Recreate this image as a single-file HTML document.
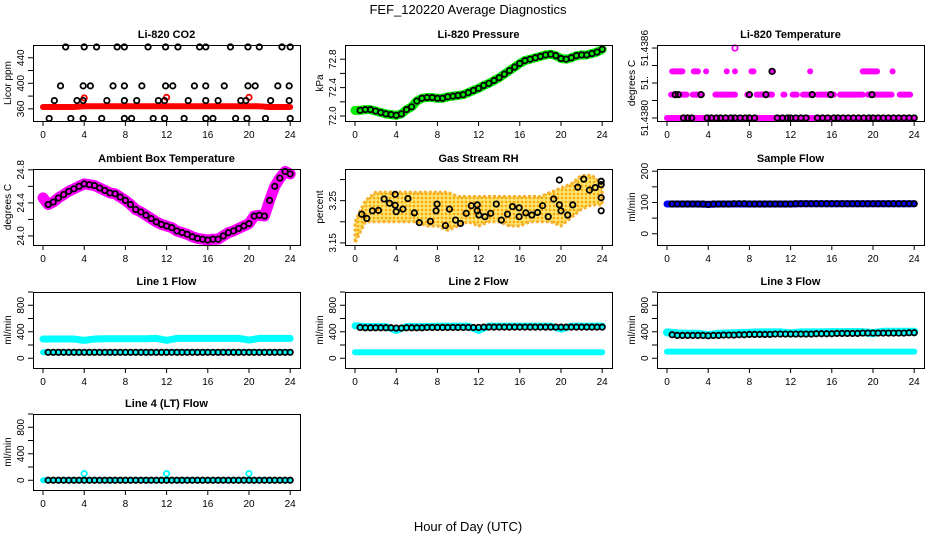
<!DOCTYPE html>
<html><head><meta charset="utf-8"><style>
html,body{margin:0;padding:0;background:#fff}
svg{display:block;font-family:"Liberation Sans",sans-serif}
</style></head><body>
<svg id="c" width="936" height="540" viewBox="0 0 936 540" xmlns="http://www.w3.org/2000/svg">
<defs>
<pattern id="rhpat" width="4" height="4" patternUnits="userSpaceOnUse">
<rect width="4" height="4" fill="#fbe27a"/>
<circle cx="2" cy="2" r="1.4" fill="#ffcc00"/>
<circle cx="2" cy="2" r="0.8" fill="#f08020"/>
</pattern>
</defs>
<text x="468" y="14" text-anchor="middle" font-size="13">FEF_120220  Average Diagnostics</text>
<text x="468" y="531" text-anchor="middle" font-size="13">Hour of Day (UTC)</text>
</svg>
<script>
// ---- data ----
const xTicks=[0,4,8,12,16,20,24];
const co2RedVals=[363,363,363,363,364,364,364,364,364,364,364,364,364,364,364,364,364,364,364,364,364,364,363,363,363];
const co2OutT=[4,12,20];
const co2OutV=[377,378,378];
const co2BlackT=[2.2,4.0,5.2,7.2,7.9,10.2,11.9,13.1,15.2,15.8,18.2,19.9,21.0,23.2,24.0, 1.7,3.9,4.6,6.8,7.9,9.6,11.9,12.6,14.7,15.8,17.6,19.9,20.6,22.8,23.9, 1.1,3.3,3.9,6.2,7.9,9.1,11.2,11.8,14.1,15.8,17.0,19.2,19.7,22.1,23.9, 0.6,2.7,3.9,5.7,7.9,8.6,10.7,11.8,13.7,15.8,16.5,18.7,19.8,21.6,24.0];
const co2BlackV=[457,457,457,457,457,457,457,457,457,457,457,457,457,457,457, 396,396,396,396,396,396,396,396,396,396,396,396,396,396,396, 373,373,373,373,373,373,373,373,373,373,373,373,373,373,373, 345,345,345,345,345,345,345,345,345,345,345,345,345,345,345];
const presVals=[72.08,72.08,72.09,72.09,72.07,72.05,72.03,72.02,72.01,72.03,72.09,72.13,72.21,72.25,72.26,72.26,72.25,72.25,72.27,72.28,72.29,72.30,72.33,72.36,72.39,72.43,72.46,72.50,72.54,72.59,72.64,72.69,72.74,72.78,72.80,72.82,72.84,72.86,72.87,72.85,72.81,72.80,72.82,72.85,72.86,72.86,72.88,72.90,72.94];
const ambVals=[24.46,24.38,24.41,24.46,24.50,24.54,24.57,24.60,24.63,24.62,24.61,24.58,24.55,24.52,24.51,24.47,24.43,24.38,24.32,24.29,24.25,24.21,24.17,24.14,24.12,24.10,24.06,24.04,24.02,23.99,23.97,23.96,23.95,23.96,23.96,24.00,24.04,24.06,24.09,24.12,24.15,24.24,24.25,24.24,24.43,24.60,24.70,24.78,24.75];
const tempLevels=[51.4380,51.4382,51.4384,51.4386];
const tempL0Seg=[[0,24]];
const tempL1Seg=[[0.4,1.9],[2.5,3.4],[4.7,6.6],[7.8,8.0],[8.7,10.2],[11.3,11.4],[12.2,12.6],[13.2,14.2],[14.6,16.2],[16.8,19.0],[19.5,21.8],[22.6,23.6]];
const tempL2Seg=[[0.5,1.5],[2.6,3.0],[3.8,3.8],[5.8,5.8],[6.6,6.6],[8.2,8.4],[10.3,10.3],[13.9,13.9],[19.0,20.4],[21.9,21.9]];
const tempL3T=[6.6];
const tempBlackT=[0.8,1.1,3.3,8.0,9.6,14.1,15.9,19.9,10.2];
const tempBlackV=[51.4382,51.4382,51.4382,51.4382,51.4382,51.4382,51.4382,51.4382,51.4384];
const tempBlackL0T=[1.6,2.0,2.4,3.9,4.3,4.8,5.2,5.7,6.2,6.6,7.1,7.6,8.0,8.5,10.7,11.2,11.7,12.0,12.5,13.0,13.5,14.6,15.1,15.6,16.2,16.6,17.1,17.6,18.1,18.6,19.1,19.6,20.0,20.5,21.0,21.5,22.0,22.5,23.0,23.5,24.0];
const rhUpper=[3.20,3.25,3.27,3.27,3.27,3.27,3.27,3.27,3.27,3.27,3.26,3.26,3.26,3.26,3.26,3.26,3.26,3.26,3.26,3.27,3.28,3.29,3.31,3.31,3.29];
const rhLower=[3.15,3.20,3.20,3.20,3.20,3.20,3.20,3.19,3.19,3.18,3.19,3.20,3.19,3.20,3.20,3.19,3.19,3.20,3.20,3.20,3.19,3.21,3.23,3.24,3.24];
const rhBlackT=[0.65,1.14,1.69,2.28,2.83,3.35,3.9,3.9,4.0,4.65,5.14,5.76,6.24,7.32,7.87,7.97,8.78,9.17,9.76,10.24,10.8,11.29,11.87,11.87,12.03,12.62,13.17,13.72,14.21,14.8,15.29,15.93,15.93,16.59,17.17,17.72,18.21,18.76,19.29,19.84,19.84,20.0,20.65,21.14,21.63,22.21,22.76,23.32,23.9,23.9,23.9,23.9];
const rhBlackV=[3.218,3.208,3.226,3.227,3.254,3.244,3.265,3.239,3.224,3.230,3.255,3.221,3.198,3.201,3.226,3.242,3.191,3.23,3.204,3.196,3.22,3.238,3.24,3.226,3.216,3.212,3.22,3.242,3.204,3.218,3.236,3.233,3.212,3.221,3.216,3.222,3.238,3.212,3.254,3.299,3.24,3.226,3.216,3.24,3.282,3.301,3.275,3.281,3.296,3.288,3.257,3.226];
const sampleVals=[95,95,95,95,94,95,95,95,95,95,95,95,95,96,96,96,96,96,96,96,96,96,96,96,96];
const sampleBlack=[95,95,95,95,95,95,95,94,95,95,95,95,96,96,96,95,95,95,95,95,95,95,95,95,96,96,96,96,96,96,96,96,96,96,96,96,96,96,96,96,96,96,96,96,96,96,96,96];
const l1Hi=[290,290,290,290,270,290,295,295,295,295,295,300,270,300,300,300,300,300,300,300,275,300,300,300,300];
const l1Lo=[90,90,90,90,90,90,90,90,90,90,90,90,95,95,95,95,95,95,95,95,95,95,95,95,95];
const l1Black=[90,90,90,90,90,90,90,90,90,90,90,90,90,90,90,90,90,90,90,90,90,90,90,90,90,90,90,90,90,90,90,90,90,90,90,90,90,90,90,90,90,90,90,90,90,90,90,90];
const l2Hi=[490,480,480,480,420,480,480,480,485,485,485,485,420,485,485,485,485,485,485,485,440,485,485,485,485];
const l2Lo=[90,90,90,90,90,90,90,90,90,90,90,90,90,90,90,90,90,90,90,90,90,90,90,90,90];
const l2Black=[465,460,460,460,460,460,460,455,455,460,460,460,460,465,465,465,465,465,465,465,465,465,465,465,470,470,470,470,470,470,470,470,470,470,470,470,470,470,470,470,470,470,470,470,470,470,470,470];
const l3Hi=[390,375,370,370,350,370,375,380,385,390,390,390,375,390,390,390,395,395,395,395,380,400,400,400,400];
const l3Lo=[100,100,100,100,100,100,100,100,100,100,100,100,100,100,100,100,100,100,100,100,100,100,100,100,100];
const l3Black=[355,345,345,345,345,345,345,340,345,345,350,350,350,355,355,360,360,360,360,360,365,365,365,365,365,365,365,365,370,370,370,370,375,375,375,375,375,380,380,380,380,380,380,380,380,380,385,385];
const l4Vals=[0,0,0,0,0,0,0,0,0,0,0,0,0,0,0,0,0,0,0,0,0,0,0,0,0];
const l4OutT=[4,12,20];
const l4OutV=[100,100,100];
const l4Black=[0,0,0,0,0,0,0,0,0,0,0,0,0,0,0,0,0,0,0,0,0,0,0,0,0,0,0,0,0,0,0,0,0,0,0,0,0,0,0,0,0,0,0,0,0,0,0,0];

// ---- drawing ----
const svg=document.getElementById('c');
const NS='http://www.w3.org/2000/svg';
function mk(tag,at,parent){const e=document.createElementNS(NS,tag);for(const k in at)e.setAttribute(k,at[k]);(parent||svg).appendChild(e);return e;}
const colX=[33,345,657], rowY=[45,169,292,414], W=267, H=76;
function panel(col,row,title,ylab,dom,ticks,labels,name){
  const x0=colX[col],y0=rowY[row];
  const g=mk('g',{});
  
  
  const sx=t=>x0+10+t*10.3;
  const sy=v=>y0+H-(v-dom[0])/(dom[1]-dom[0])*H;
  const t=mk('text',{x:x0+W/2,y:y0-7,'text-anchor':'middle','font-size':11,'font-weight':'bold'},g);
  t.textContent=title;
  
  
  const yl=mk('text',{transform:`translate(${x0-22},${y0+H/2}) rotate(-90)`,'text-anchor':'middle','font-size':10},g);
  yl.textContent=ylab;
  
  
  const ax=mk('g',{stroke:'#000','stroke-width':1},g);
  
  
  xTicks.forEach(v=>{mk('line',{x1:sx(v),x2:sx(v),y1:y0+H,y2:y0+H+5},ax);
    const l=mk('text',{x:sx(v),y:y0+H+17,'text-anchor':'middle','font-size':10,stroke:'none'},g);l.textContent=v;
    
    });
  ticks.forEach((v,i)=>{mk('line',{x1:x0-5,x2:x0,y1:sy(v),y2:sy(v)},ax);
    if(labels[i]){const l=mk('text',{transform:`translate(${x0-9},${sy(v)}) rotate(-90)`,'text-anchor':'middle','font-size':10},g);l.textContent=labels[i];
    
    }});
  const pg=mk('g',{},g);
  
  
  mk('rect',{x:x0+0.5,y:y0+0.5,width:W,height:H,fill:'none',stroke:'#000'},g);
  return {sx,sy,g:pg,name};
}
function band(p,ts,vs,color,w){
  const pts=ts.map((t,i)=>p.sx(t)+','+p.sy(vs[i])).join(' ');
  const l=mk('polyline',{points:pts,fill:'none',stroke:color,'stroke-width':w,'stroke-linejoin':'round','stroke-linecap':'round'},p.g);
  
  
}
function pts(p,ts,vs,color,r,sw){
  ts.forEach((t,i)=>{const c=mk('circle',{cx:p.sx(t),cy:p.sy(vs[i]),r:r||2.7,fill:'none',stroke:color,'stroke-width':sw||1.8},p.g);
    
    });
}
const hrs=co2RedVals.map((_,i)=>i);
const half=presVals.map((_,i)=>i*0.5);
const halfB=sampleBlack.map((_,i)=>(i+1)*0.5);

let p=panel(0,0,'Li-820 CO2','Licor ppm',[341,460],[360,380,400,420,440],['360','','400','','440'],'co2');
band(p,hrs,co2RedVals,'#ff0000',6); pts(p,co2OutT,co2OutV,'#ff0000'); pts(p,co2BlackT,co2BlackV,'#000');

p=panel(1,0,'Li-820 Pressure','kPa',[71.93,73.0],[72.0,72.2,72.4,72.6,72.8],['72.0','','72.4','','72.8'],'pressure');
band(p,half,presVals,'#00ee00',9); pts(p,half.slice(1),presVals.slice(1),'#000');

p=panel(2,0,'Li-820 Temperature','degrees C',[51.437974,51.438626],[51.4380,51.43815,51.4383,51.43845,51.4386],['51.4380','','51.','','51.4386'],'temperature');
[[tempL0Seg,0],[tempL1Seg,1],[tempL2Seg,2]].forEach(([segs,li])=>segs.forEach(s=>{band(p,s,[tempLevels[li],tempLevels[li]],'#ff00ff',6);}));
pts(p,tempL3T,[tempLevels[3]],'#ff00ff');
pts(p,tempBlackL0T,tempBlackL0T.map(()=>tempLevels[0]),'#000');
pts(p,tempBlackT,tempBlackV,'#000');

p=panel(0,1,'Ambient Box Temperature','degrees C',[23.89,24.81],[24.0,24.2,24.4,24.6,24.8],['24.0','','24.4','','24.8'],'ambient');
band(p,half,ambVals,'#ff00ff',11); pts(p,half.slice(1),ambVals.slice(1),'#000');

p=panel(1,1,'Gas Stream RH','percent',[3.145,3.325],[3.15,3.20,3.25,3.30],['3.15','','3.25',''],'rh');
{const up=hrs.map((t,i)=>p.sx(t)+','+p.sy(rhUpper[i]));const lo=hrs.map((t,i)=>p.sx(t)+','+p.sy(rhLower[i])).reverse();
 const a=mk('polygon',{points:up.concat(lo).join(' '),fill:'url(#rhpat)',stroke:'#f5b030','stroke-width':3,'stroke-linejoin':'round','stroke-dasharray':'3 2'},p.g);
 
 }
pts(p,rhBlackT,rhBlackV,'#000');

p=panel(2,1,'Sample Flow','ml/min',[-36,207],[0,50,100,150,200],['0','','100','','200'],'sample-flow');
band(p,hrs,sampleVals,'#0000ff',7); pts(p,halfB,sampleBlack,'#000');

const fd=[-147,1000], ft=[0,200,400,600,800,1000], fl=['0','','400','','800',''];
p=panel(0,2,'Line 1 Flow','ml/min',fd,ft,fl,'line1-flow');
band(p,hrs,l1Hi,'#00ffff',7); band(p,hrs,l1Lo,'#00ffff',6); pts(p,halfB,l1Black,'#000');
p=panel(1,2,'Line 2 Flow','ml/min',fd,ft,fl,'line2-flow');
band(p,hrs,l2Hi,'#00ffff',7); band(p,hrs,l2Lo,'#00ffff',6); pts(p,halfB,l2Black,'#000');
p=panel(2,2,'Line 3 Flow','ml/min',fd,ft,fl,'line3-flow');
band(p,hrs,l3Hi,'#00ffff',8); band(p,hrs,l3Lo,'#00ffff',6); pts(p,halfB,l3Black,'#000');
p=panel(0,3,'Line 4 (LT) Flow','ml/min',fd,ft,fl,'line4-flow');
band(p,hrs,l4Vals,'#00ffff',6); pts(p,l4OutT,l4OutV,'#00ffff'); pts(p,halfB,l4Black,'#000');
</script>
</body></html>
